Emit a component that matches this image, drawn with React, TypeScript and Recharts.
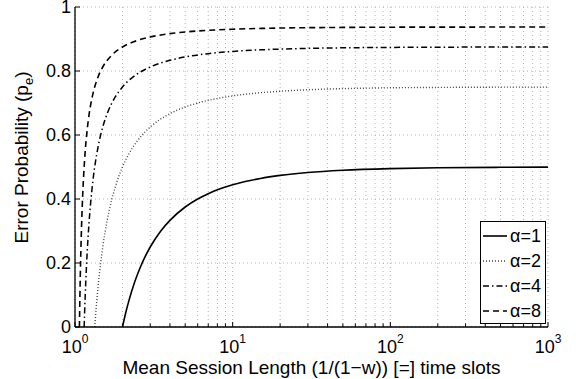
import React from 'react';
import { LineChart, Line, XAxis, YAxis, CartesianGrid, Legend } from 'recharts';

// Mean session length values (x) and error probability values (y) per series
const lenA1 = [2, 2.1, 2.2, 2.4, 2.6, 2.8, 3, 3.5, 4, 5, 6, 7, 8, 10, 12, 15, 20, 30, 50, 100, 200, 500, 1000];
const peA1 = [0, 0.0455, 0.0833, 0.1429, 0.1875, 0.2222, 0.25, 0.3, 0.3333, 0.375, 0.4, 0.4167, 0.4286, 0.4444, 0.4545, 0.4643, 0.4737, 0.4828, 0.4898, 0.4949, 0.4975, 0.499, 0.4995];

const lenA2 = [1.3333, 1.35, 1.4, 1.45, 1.5, 1.6, 1.7, 1.8, 2, 2.2, 2.5, 3, 4, 5, 6, 8, 10, 15, 20, 30, 50, 100, 200, 500, 1000];
const peA2 = [0, 0.0357, 0.125, 0.1944, 0.25, 0.3333, 0.3929, 0.4375, 0.5, 0.5417, 0.5833, 0.625, 0.6667, 0.6875, 0.7, 0.7143, 0.7222, 0.7321, 0.7368, 0.7414, 0.7449, 0.7475, 0.7487, 0.7495, 0.7497];

const lenA4 = [1.1429, 1.15, 1.16, 1.18, 1.2, 1.25, 1.3, 1.4, 1.5, 1.6, 1.8, 2, 2.5, 3, 4, 5, 7, 10, 15, 20, 30, 50, 100, 200, 500, 1000];
const peA4 = [0, 0.0417, 0.0938, 0.1806, 0.25, 0.375, 0.4583, 0.5625, 0.625, 0.6667, 0.7188, 0.75, 0.7917, 0.8125, 0.8333, 0.8438, 0.8542, 0.8611, 0.8661, 0.8684, 0.8707, 0.8724, 0.8737, 0.8744, 0.8748, 0.8749];

const lenA8 = [1.0667, 1.07, 1.08, 1.09, 1.1, 1.12, 1.15, 1.2, 1.25, 1.3, 1.4, 1.5, 1.7, 2, 2.5, 3, 4, 5, 7, 10, 20, 50, 100, 1000];
const peA8 = [0, 0.0446, 0.1563, 0.2431, 0.3125, 0.4167, 0.5208, 0.625, 0.6875, 0.7292, 0.7813, 0.8125, 0.8482, 0.875, 0.8958, 0.9063, 0.9167, 0.9219, 0.9271, 0.9306, 0.9342, 0.9362, 0.9369, 0.9374];

const seriesNames = ['α=1', 'α=2', 'α=4', 'α=8'];

const xTicks = [1, 2, 3, 4, 5, 6, 7, 8, 9, 10, 20, 30, 40, 50, 60, 70, 80, 90, 100, 200, 300, 400, 500, 600, 700, 800, 900, 1000];
const xMajor = [1, 10, 100, 1000];
const xMajorExp = ['0', '1', '2', '3'];
const yTicks = [0, 0.2, 0.4, 0.6, 0.8, 1];
const yTickLabels = ['0', '0.2', '0.4', '0.6', '0.8', '1'];

const zip = (xs: number[], ys: number[]) => xs.map((x, i) => ({ x, y: ys[i] }));
const dataA1 = zip(lenA1, peA1);
const dataA2 = zip(lenA2, peA2);
const dataA4 = zip(lenA4, peA4);
const dataA8 = zip(lenA8, peA8);

const FONT = '"Liberation Sans", Arial, Helvetica, sans-serif';
const styles = [
  { dash: undefined as string | undefined, color: '#000', width: 1.6 },
  { dash: '1 2', color: '#444', width: 1.4 },
  { dash: '6 3 1.5 3', color: '#000', width: 1.5 },
  { dash: '6 4', color: '#000', width: 1.6 },
];

const BottomTick = (props: any) => {
  const { x, y, payload } = props;
  const v = payload.value;
  const mi = xMajor.indexOf(v);
  const major = mi >= 0;
  return (
    <g>
      <line x1={x} x2={x} y1={y} y2={y - (major ? 5 : 3.5)} stroke="#000" strokeWidth={1} />
      {major && (
        <text x={x} y={y + 26} textAnchor="middle" fontSize={18} fontFamily={FONT} fill="#000">
          <tspan>10</tspan>
          <tspan dy={-10} fontSize={12}>{xMajorExp[mi]}</tspan>
        </text>
      )}
    </g>
  );
};

const TopTick = (props: any) => {
  const { x, y, payload } = props;
  const major = xMajor.indexOf(payload.value) >= 0;
  return <line x1={x} x2={x} y1={y} y2={y + (major ? 5 : 3.5)} stroke="#000" strokeWidth={1} />;
};

const LeftTick = (props: any) => {
  const { x, y, payload } = props;
  const i = yTicks.indexOf(payload.value);
  return (
    <g>
      <line x1={x} x2={x + 5} y1={y} y2={y} stroke="#000" strokeWidth={1} />
      <text x={x - 4} y={y} dy="0.36em" textAnchor="end" fontSize={18} fontFamily={FONT} fill="#000">
        {yTickLabels[i]}
      </text>
    </g>
  );
};

const RightTick = (props: any) => {
  const { x, y } = props;
  return <line x1={x} x2={x - 5} y1={y} y2={y} stroke="#000" strokeWidth={1} />;
};

const LegendBox = () => (
  <div style={{ width: 66, height: 103, boxSizing: 'border-box', border: '1.3px solid #000', background: '#fff' }}>
    <svg width={64} height={101} style={{ display: 'block' }}>
      {seriesNames.map((n, i) => {
        const cy = 14 + i * 25;
        const s = styles[i];
        return (
          <g key={n}>
            <line x1={2} x2={26} y1={cy} y2={cy} stroke={s.color} strokeWidth={s.width} strokeDasharray={s.dash} />
            <text x={29} y={cy} dy="0.36em" fontSize={18} fontFamily={FONT} fill="#000">{n}</text>
          </g>
        );
      })}
    </svg>
  </div>
);

export default function App() {
  const datas = [dataA1, dataA2, dataA4, dataA8];
  return (
    <div style={{ position: 'absolute', left: 0, top: 0, width: 576, height: 379, background: '#fff' }}>
      <LineChart width={576} height={379} margin={{ top: 7, right: 28, bottom: 0, left: 0 }}>
        <CartesianGrid stroke="#b3b3b3" strokeDasharray="1 3" strokeWidth={1} />
        <XAxis
          dataKey="x"
          type="number"
          scale="log"
          domain={[1, 1000]}
          allowDataOverflow
          ticks={xTicks}
          interval={0}
          height={52}
          tickSize={0}
          tickMargin={0}
          tick={<BottomTick />}
          axisLine={{ stroke: '#000', strokeWidth: 1.3 }}
          tickLine={false}
          label={{ value: 'Mean Session Length (1/(1−w)) [=] time slots', position: 'insideBottom', offset: 5, fontSize: 19, fontFamily: FONT, fill: '#000' }}
        />
        <XAxis
          xAxisId="top"
          orientation="top"
          dataKey="x"
          type="number"
          scale="log"
          domain={[1, 1000]}
          allowDataOverflow
          ticks={xTicks}
          interval={0}
          height={0}
          tickSize={0}
          tickMargin={0}
          tick={<TopTick />}
          axisLine={{ stroke: '#000', strokeWidth: 1.3 }}
          tickLine={false}
        />
        <YAxis
          type="number"
          domain={[0, 1]}
          ticks={yTicks}
          interval={0}
          width={75}
          tickSize={0}
          tickMargin={0}
          tick={<LeftTick />}
          axisLine={{ stroke: '#000', strokeWidth: 1.3 }}
          tickLine={false}
          label={
            <text x={28} y={167} transform="rotate(-90 28 167)" textAnchor="middle" fontSize={19} fontFamily={FONT} fill="#000">
              <tspan>Error Probability (p</tspan>
              <tspan fontSize={13} dy={5}>e</tspan>
              <tspan dy={-5}>)</tspan>
            </text>
          }
        />
        <YAxis
          yAxisId="right"
          orientation="right"
          type="number"
          domain={[0, 1]}
          ticks={yTicks}
          interval={0}
          width={0}
          tickSize={0}
          tickMargin={0}
          tick={<RightTick />}
          axisLine={{ stroke: '#000', strokeWidth: 1.3 }}
          tickLine={false}
        />
        {datas.map((d, i) => (
          <Line
            key={seriesNames[i]}
            data={d}
            dataKey="y"
            name={seriesNames[i]}
            type="monotone"
            stroke={styles[i].color}
            strokeWidth={styles[i].width}
            strokeDasharray={styles[i].dash}
            dot={false}
            activeDot={false}
            isAnimationActive={false}
          />
        ))}
        <Legend
          layout="vertical"
          align="center"
          verticalAlign="middle"
          content={<LegendBox />}
          wrapperStyle={{ position: 'absolute', left: 480, top: 221, width: 66, height: 103, margin: 0, padding: 0 }}
        />
      </LineChart>
    </div>
  );
}
